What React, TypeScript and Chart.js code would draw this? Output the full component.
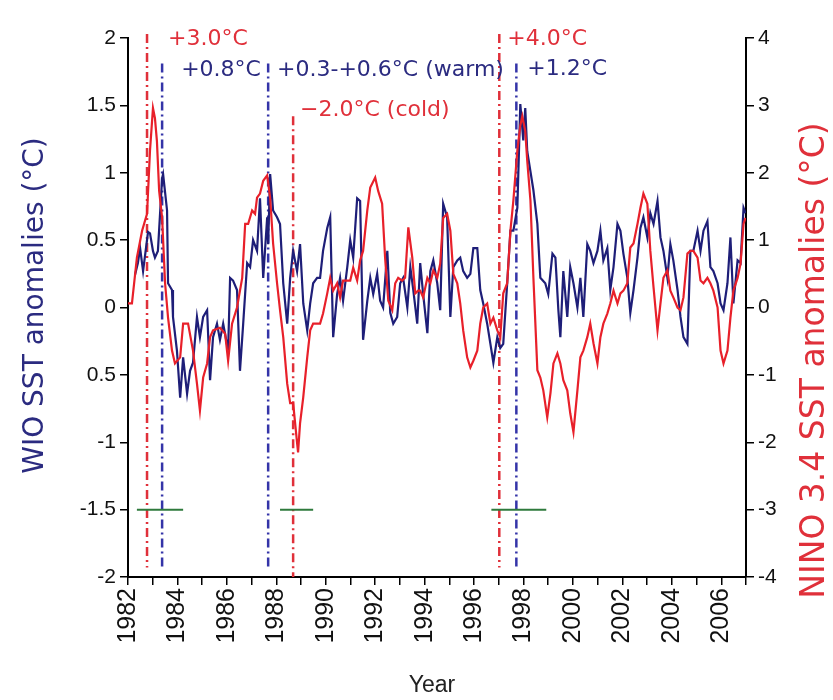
import React, { useEffect, useRef } from 'react';
import { Chart, registerables } from 'chart.js';

Chart.register(...registerables);

// ---------- data ----------
const wioYears = [
  1982.28, 1982.40, 1982.49, 1982.61, 1982.81, 1982.89, 1983.01, 1983.09, 1983.21, 1983.38,
  1983.42, 1983.58, 1983.62, 1983.78, 1983.82, 1983.98, 1984.11, 1984.23, 1984.39, 1984.51,
  1984.63, 1984.79, 1984.91, 1985.04, 1985.20, 1985.32, 1985.44, 1985.60, 1985.72, 1985.85,
  1986.05, 1986.13, 1986.25, 1986.41, 1986.53, 1986.66, 1986.82, 1986.94, 1987.06, 1987.22,
  1987.34, 1987.47, 1987.63, 1987.67, 1987.75, 1987.87, 1988.03, 1988.15, 1988.28, 1988.44,
  1988.56, 1988.68, 1988.84, 1988.96, 1989.09, 1989.25, 1989.37, 1989.49, 1989.65, 1989.77,
  1989.89, 1990.06, 1990.18, 1990.30, 1990.46, 1990.58, 1990.70, 1990.87, 1990.99, 1991.11,
  1991.27, 1991.39, 1991.51, 1991.68, 1991.80, 1991.92, 1992.08, 1992.20, 1992.32, 1992.49,
  1992.61, 1992.73, 1992.89, 1993.01, 1993.13, 1993.30, 1993.42, 1993.54, 1993.70, 1993.82,
  1993.94, 1994.11, 1994.23, 1994.35, 1994.51, 1994.63, 1994.75, 1994.91, 1995.04, 1995.16,
  1995.32, 1995.44, 1995.56, 1995.72, 1995.85, 1995.97, 1996.13, 1996.25, 1996.37, 1996.53,
  1996.66, 1996.78, 1996.94, 1997.06, 1997.18, 1997.34, 1997.47, 1997.59, 1997.75, 1997.87,
  1997.99, 1998.07, 1998.15, 1998.28, 1998.40, 1998.56, 1998.68, 1998.88, 1999.00, 1999.17,
  1999.29, 1999.41, 1999.49, 1999.61, 1999.77, 1999.89, 2000.02, 2000.18, 2000.30, 2000.42,
  2000.58, 2000.70, 2000.83, 2000.99, 2001.11, 2001.23, 2001.39, 2001.51, 2001.64, 2001.80,
  2001.92, 2002.04, 2002.20, 2002.32, 2002.45, 2002.61, 2002.73, 2002.85, 2003.01, 2003.13,
  2003.26, 2003.42, 2003.54, 2003.66, 2003.82, 2003.94, 2004.06, 2004.23, 2004.35, 2004.47,
  2004.63, 2004.75, 2004.87, 2005.04, 2005.16, 2005.28, 2005.44, 2005.56, 2005.68, 2005.85,
  2005.97, 2006.09, 2006.25, 2006.37, 2006.49, 2006.66, 2006.78, 2006.90, 2006.98,
];
const wioSST = [
  0.24, 0.33, 0.44, 0.27, 0.56, 0.55, 0.42, 0.37, 0.42, 0.96,
  0.99, 0.72, 0.18, 0.13, -0.07, -0.32, -0.67, -0.37, -0.64, -0.47,
  -0.41, -0.07, -0.22, -0.07, -0.02, -0.54, -0.22, -0.12, -0.24, -0.12,
  -0.32, 0.22, 0.20, 0.13, -0.47, -0.12, 0.33, 0.30, 0.50, 0.42,
  0.81, 0.22, 0.67, 0.47, 0.99, 0.72, 0.67, 0.62, 0.18, -0.12,
  0.22, 0.42, 0.27, 0.47, 0.03, -0.17, 0.03, 0.18, 0.22, 0.22,
  0.42, 0.59, 0.67, -0.22, 0.10, 0.22, 0.05, 0.30, 0.50, 0.37,
  0.81, 0.79, -0.24, 0.05, 0.22, 0.10, 0.25, 0.05, 0.00, 0.42,
  -0.04, -0.12, -0.07, 0.18, 0.22, 0.00, 0.30, 0.13, -0.12, 0.33,
  0.10, -0.19, 0.27, 0.35, 0.18, -0.02, 0.77, 0.67, -0.07, 0.30,
  0.35, 0.37, 0.27, 0.22, 0.25, 0.44, 0.44, 0.13, 0.03, -0.12,
  -0.27, -0.41, -0.22, -0.30, -0.27, 0.18, 0.57, 0.57, 0.74, 1.51,
  1.24, 1.48, 1.16, 1.01, 0.87, 0.62, 0.22, 0.18, 0.10, 0.40,
  0.37, -0.02, -0.22, 0.27, -0.07, 0.30, 0.18, 0.00, 0.22, -0.07,
  0.47, 0.42, 0.33, 0.42, 0.57, 0.35, 0.44, 0.13, 0.30, 0.62,
  0.57, 0.40, 0.22, -0.04, 0.13, 0.37, 0.59, 0.67, 0.52, 0.70,
  0.62, 0.79, 0.52, 0.42, 0.22, 0.47, 0.35, 0.13, -0.07, -0.22,
  -0.27, 0.42, 0.42, 0.57, 0.42, 0.57, 0.64, 0.30, 0.27, 0.18,
  0.03, -0.02, 0.18, 0.52, 0.03, 0.35, 0.33, 0.74, 0.70,
];

const ninoYears = [
  1982.00, 1982.16, 1982.36, 1982.57, 1982.77, 1982.89, 1983.01, 1983.09, 1983.17, 1983.26,
  1983.38, 1983.50, 1983.62, 1983.78, 1983.90, 1984.11, 1984.23, 1984.43, 1984.63, 1984.79,
  1984.91, 1985.04, 1985.20, 1985.32, 1985.44, 1985.72, 1985.93, 1986.05, 1986.21, 1986.41,
  1986.62, 1986.74, 1986.86, 1987.02, 1987.14, 1987.22, 1987.34, 1987.47, 1987.63, 1987.75,
  1987.87, 1988.03, 1988.15, 1988.28, 1988.44, 1988.56, 1988.68, 1988.84, 1988.88, 1988.96,
  1989.09, 1989.25, 1989.37, 1989.49, 1989.77, 1989.89, 1990.06, 1990.18, 1990.30, 1990.46,
  1990.58, 1990.70, 1990.87, 1990.99, 1991.11, 1991.27, 1991.39, 1991.51, 1991.68, 1991.80,
  1992.00, 1992.12, 1992.28, 1992.40, 1992.53, 1992.69, 1992.81, 1992.93, 1993.09, 1993.21,
  1993.34, 1993.50, 1993.62, 1993.74, 1993.82, 1993.94, 1994.11, 1994.23, 1994.35, 1994.51,
  1994.63, 1994.75, 1994.91, 1995.04, 1995.16, 1995.32, 1995.44, 1995.56, 1995.72, 1995.85,
  1995.97, 1996.13, 1996.25, 1996.37, 1996.53, 1996.66, 1996.78, 1996.94, 1997.06, 1997.18,
  1997.34, 1997.47, 1997.59, 1997.75, 1997.87, 1997.95, 1998.07, 1998.15, 1998.28, 1998.40,
  1998.56, 1998.68, 1998.80, 1998.96, 1999.09, 1999.21, 1999.37, 1999.49, 1999.61, 1999.77,
  1999.89, 2000.02, 2000.18, 2000.30, 2000.42, 2000.58, 2000.70, 2000.83, 2000.99, 2001.11,
  2001.23, 2001.39, 2001.51, 2001.64, 2001.80, 2001.92, 2002.04, 2002.20, 2002.32, 2002.45,
  2002.61, 2002.73, 2002.85, 2003.01, 2003.13, 2003.26, 2003.42, 2003.54, 2003.66, 2003.82,
  2003.94, 2004.06, 2004.23, 2004.35, 2004.47, 2004.63, 2004.75, 2004.87, 2005.04, 2005.16,
  2005.28, 2005.44, 2005.56, 2005.68, 2005.85, 2005.97, 2006.09, 2006.25, 2006.37, 2006.49,
  2006.66, 2006.78, 2006.90, 2006.98,
];
const ninoSST = [
  0.06, 0.06, 0.74, 1.14, 1.39, 2.33, 2.96, 2.81, 2.47, 1.73,
  1.33, 0.36, -0.15, -0.64, -0.83, -0.74, -0.24, -0.24, -0.64, -1.13,
  -1.53, -1.04, -0.83, -0.44, -0.34, -0.30, -0.39, -0.79, -0.24, 0.00,
  0.44, 1.24, 1.24, 1.44, 1.39, 1.63, 1.69, 1.88, 1.96, 1.63,
  0.95, 0.36, -0.04, -0.44, -1.13, -1.42, -1.42, -2.01, -2.15, -1.72,
  -1.33, -0.74, -0.34, -0.24, -0.24, -0.09, 0.21, 0.44, 0.25, 0.36,
  0.15, 0.40, 0.40, 0.40, 0.59, 0.40, 0.70, 0.84, 1.44, 1.78,
  1.93, 1.73, 1.54, 0.74, 0.10, -0.04, 0.36, 0.44, 0.40, 0.44,
  1.19, 0.74, 0.21, 0.25, 0.25, 0.15, 0.44, 0.36, 0.55, 0.44,
  0.65, 1.33, 1.39, 1.14, 0.50, 0.36, 0.06, -0.34, -0.74, -0.89,
  -0.79, -0.64, -0.24, 0.00, 0.06, -0.24, -0.15, -0.34, -0.44, 0.21,
  0.36, 1.14, 1.59, 2.33, 2.70, 2.84, 2.62, 2.18, 1.59, 0.44,
  -0.93, -1.04, -1.23, -1.63, -1.27, -0.83, -0.68, -0.83, -1.08, -1.23,
  -1.57, -1.85, -1.23, -0.74, -0.64, -0.44, -0.24, -0.53, -0.83, -0.44,
  -0.24, -0.09, 0.06, 0.25, 0.06, 0.21, 0.25, 0.36, 0.89, 0.95,
  1.24, 1.48, 1.69, 1.54, 0.84, 0.30, -0.34, 0.06, 0.44, 0.55,
  0.25, 0.15, 0.00, -0.04, 0.15, 0.80, 0.84, 0.84, 0.74, 0.40,
  0.36, 0.44, 0.36, 0.25, 0.00, -0.64, -0.83, -0.64, -0.15, 0.25,
  0.44, 0.65, 1.24, 1.33,
];

// event markers (dash-dot verticals), in WIO-axis units
const ninoEventYears = [1982.77, 1988.68, 1997.02];
const ninoEventTops = [2.03, 1.42, 2.03];
const ninoEventBottoms = [-1.93, -2.0, -1.93];
const wioEventYears = [1983.38, 1987.67, 1997.71];
const wioEventTops = [1.81, 1.81, 1.81];
const wioEventBottoms = [-1.93, -1.93, -1.93];

// green duration bars at -1.5
const spanStarts = [1982.36, 1988.15, 1996.70];
const spanEnds = [1984.23, 1989.49, 1998.92];
const spanLevel = -1.5;

// annotations
const noteTexts = ['+3.0°C', '+0.8°C', '+0.3-+0.6°C (warm)', '\u22122.0°C (cold)', '+4.0°C', '+1.2°C'];
const noteYears = [1983.62, 1984.15, 1988.03, 1988.96, 1997.34, 1998.15];
const noteValues = [1.99, 1.76, 1.76, 1.46, 1.99, 1.77];
const noteSeries = ['nino', 'wio', 'wio', 'nino', 'nino', 'wio'];

const NAVY = '#1e1e78';
const RED = '#e8202a';
const NAVY_TXT = '#2b2b80';
const RED_TXT = '#e0303a';

const overlayPlugin = {
  id: 'overlay',
  afterDraw(chart: any) {
    const ctx = chart.ctx;
    const xs = chart.scales.x;
    const ys = chart.scales.y;
    const area = chart.chartArea;
    ctx.save();
    // annotations
    ctx.font = '22px "DejaVu Sans"';
    ctx.textBaseline = 'middle';
    ctx.textAlign = 'left';
    noteTexts.forEach((t, i) => {
      ctx.fillStyle = noteSeries[i] === 'nino' ? RED_TXT : NAVY_TXT;
      ctx.fillText(t, xs.getPixelForValue(noteYears[i]), ys.getPixelForValue(noteValues[i]));
    });
    // axis titles
    ctx.textAlign = 'center';
    ctx.save();
    ctx.translate(36, (area.top + area.bottom) / 2 - 2);
    ctx.rotate(-Math.PI / 2);
    ctx.fillStyle = NAVY_TXT;
    ctx.font = '28px "DejaVu Sans"';
    ctx.fillText('WIO SST anomalies (°C)', 0, 0);
    ctx.restore();
    ctx.save();
    ctx.translate(815, (area.top + area.bottom) / 2 + 53);
    ctx.rotate(-Math.PI / 2);
    ctx.fillStyle = RED_TXT;
    ctx.font = '33px "DejaVu Sans"';
    ctx.fillText('NINO 3.4 SST anomalies (°C)', 0, 0);
    ctx.restore();
    ctx.fillStyle = '#222';
    ctx.font = '23px "Liberation Sans"';
    ctx.fillText('Year', (area.left + area.right) / 2 - 5, 686);
    ctx.restore();
  },
};

export default function App() {
  const ref = useRef<HTMLCanvasElement | null>(null);
  useEffect(() => {
    if (!ref.current) return;
    const eventDs: any[] = [];
    ninoEventYears.forEach((yr, i) => {
      eventDs.push({
        data: [{ x: yr, y: ninoEventTops[i] }, { x: yr, y: ninoEventBottoms[i] }],
        yAxisID: 'y', borderColor: '#e0303a', borderWidth: 2.5, borderDash: [9, 4, 2, 4],
        pointRadius: 0, clip: false, order: 5,
      });
    });
    wioEventYears.forEach((yr, i) => {
      eventDs.push({
        data: [{ x: yr, y: wioEventTops[i] }, { x: yr, y: wioEventBottoms[i] }],
        yAxisID: 'y', borderColor: '#3434a8', borderWidth: 2.5, borderDash: [9, 4, 2, 4],
        pointRadius: 0, clip: false, order: 5,
      });
    });
    const spanDs = spanStarts.map((s, i) => ({
      data: [{ x: s, y: spanLevel }, { x: spanEnds[i], y: spanLevel }],
      yAxisID: 'y', borderColor: '#2e7a3c', borderWidth: 2, pointRadius: 0, order: 0,
    }));
    const tickFont = { family: '"Liberation Sans"', size: 21 };
    const chart = new Chart(ref.current, {
      type: 'line',
      data: {
        datasets: [
          {
            label: 'NINO 3.4',
            data: ninoYears.map((x, i) => ({ x, y: ninoSST[i] })),
            yAxisID: 'y2', borderColor: RED, borderWidth: 2.2, pointRadius: 0, order: 1,
          },
          {
            label: 'WIO',
            data: wioYears.map((x, i) => ({ x, y: wioSST[i] })),
            yAxisID: 'y', borderColor: NAVY, borderWidth: 2.2, pointRadius: 0, order: 2,
          },
          ...eventDs,
          ...spanDs,
        ] as any,
      },
      options: {
        animation: false,
        responsive: true,
        maintainAspectRatio: false,
        elements: { line: { tension: 0 } },
        layout: { padding: { top: 38, left: 0, right: 0, bottom: 0 } },
        plugins: { legend: { display: false }, tooltip: { enabled: false } },
        scales: {
          x: {
            type: 'linear', min: 1982, max: 2007, position: 'bottom',
            afterFit: (s: any) => { s.height = 123; },
            ticks: {
              stepSize: 1, autoSkip: false, minRotation: 90, maxRotation: 90,
              font: { family: '"Liberation Sans"', size: 25 }, color: '#111', padding: 3,
              callback: (v: any) => (Math.round(v) % 2 === 0 ? String(Math.round(v)) : ''),
            },
            grid: { drawOnChartArea: false, drawTicks: true, tickLength: 8, color: '#000', lineWidth: 1.5 },
            border: { color: '#000', width: 2 },
          },
          y: {
            type: 'linear', position: 'left', min: -2, max: 2,
            afterFit: (s: any) => { s.width = 128; },
            ticks: {
              stepSize: 0.5, font: tickFont, color: '#111', padding: 4,
              callback: (v: any) => (Math.abs(v + 0.5) < 1e-9 ? '0.5' : String(v)),
            },
            grid: { drawOnChartArea: false, drawTicks: true, tickLength: 8, color: '#000', lineWidth: 1.5 },
            border: { color: '#000', width: 2 },
          },
          y2: {
            type: 'linear', position: 'right', min: -4, max: 4,
            afterFit: (s: any) => { s.width = 87; },
            ticks: { stepSize: 1, font: tickFont, color: '#111', padding: 4 },
            grid: { drawOnChartArea: false, drawTicks: true, tickLength: 8, color: '#000', lineWidth: 1.5 },
            border: { color: '#000', width: 2 },
          },
        },
      } as any,
      plugins: [overlayPlugin],
    });
    return () => chart.destroy();
  }, []);
  return (
    <div style={{ position: 'fixed', left: 0, top: 0, width: 833, height: 700, background: '#fff' }}>
      <canvas ref={ref} />
    </div>
  );
}
